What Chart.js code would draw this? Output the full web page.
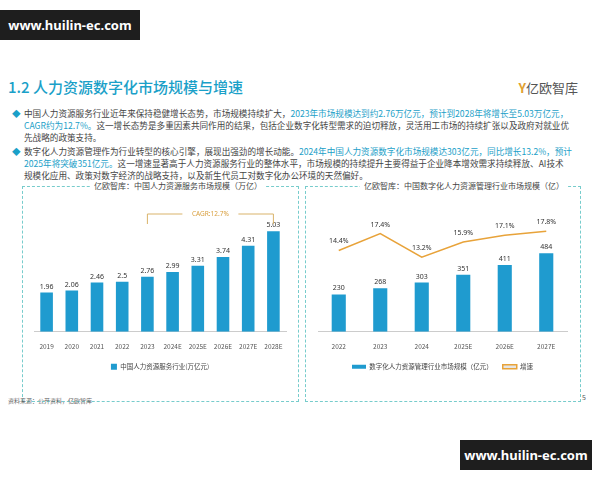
<!DOCTYPE html>
<html><head><meta charset="utf-8">
<script src="https://cdn.jsdelivr.net/npm/chart.js@4"></script>
<style>
body{margin:0;width:600px;height:480px;background:#fff;font-family:"Noto Sans CJK SC",sans-serif;position:relative;overflow:hidden}
.wm{position:absolute;background:#1e1e1e;color:#fff;font:bold 13px "Noto Sans",sans-serif;display:flex;align-items:center;justify-content:center;white-space:nowrap}
h1{position:absolute;left:8px;top:76px;margin:0;font-size:15px;font-weight:500;color:#1aa0c8}
.logo{position:absolute;right:22px;top:78px;font-size:13px;color:#555}
.logo b{color:#e0a030}
.p{position:absolute;left:12px;font-size:8.6px;line-height:12px;color:#444;width:560px}
.p span{color:#1aa0c8}
.p::before{content:"◆";color:#1aa0c8;position:absolute;left:0}
.p div{margin-left:12px}
.box{position:absolute;border:1px dashed #7cc;top:186px;height:214px}
.ct{position:absolute;top:180px;font-size:8px;color:#444;background:#fff;padding:0 4px}
canvas{position:absolute}
.foot{position:absolute;left:8px;top:396px;font-size:6px;color:#666}
</style></head><body>
<div class="wm" style="left:0;top:10px;width:140px;height:30px">www.huilin-ec.com</div>
<div class="wm" style="left:460px;top:440px;width:132px;height:30px">www.huilin-ec.com</div>
<h1>1.2 人力资源数字化市场规模与增速</h1>
<div class="logo"><b>Y</b>亿欧智库</div>
<div class="p" style="top:107px"><div>中国人力资源服务行业近年来保持稳健增长态势，市场规模持续扩大，<span>2023年市场规模达到约2.76万亿元，预计到2028年将增长至5.03万亿元，CAGR约为12.7%。</span>这一增长态势是多重因素共同作用的结果，包括企业数字化转型需求的迫切释放，灵活用工市场的持续扩张以及政府对就业优先战略的政策支持。</div></div>
<div class="p" style="top:145px"><div>数字化人力资源管理作为行业转型的核心引擎，展现出强劲的增长动能。<span>2024年中国人力资源数字化市场规模达303亿元，同比增长13.2%，预计2025年将突破351亿元。</span>这一增速显著高于人力资源服务行业的整体水平，市场规模的持续提升主要得益于企业降本增效需求持续释放、AI技术规模化应用、政策对数字经济的战略支持，以及新生代员工对数字化办公环境的天然偏好。</div></div>
<div class="box" style="left:22px;width:275px"></div>
<div class="box" style="left:305px;width:274px"></div>
<div class="ct" style="left:90px">亿欧智库：中国人力资源服务市场规模（万亿）</div>
<div class="ct" style="left:360px">亿欧智库：中国数字化人力资源管理行业市场规模（亿）</div>
<canvas id="c1" style="left:26px;top:196px" width="268" height="184"></canvas>
<canvas id="c2" style="left:310px;top:196px" width="265" height="184"></canvas>
<div class="foot">资料来源：公开资料，亿欧智库</div>
<div style="position:absolute;left:582px;top:392px;font-size:7px;color:#555">5</div>
<script>
const years1=['2019','2020','2021','2022','2023','2024E','2025E','2026E','2027E','2028E'];
const hr=[1.96,2.06,2.46,2.5,2.76,2.99,3.31,3.74,4.31,5.03];
const years2=['2022','2023','2024','2025E','2026E','2027E'];
const dig=[230,268,303,351,411,484];
const growth=[14.4,17.4,13.2,15.9,17.1,17.8];
const blue='#1f9bcf',orange='#e8a33a',F={family:'"Noto Sans CJK SC",sans-serif',size:6.5};
const labels={id:'lbl',afterDatasetsDraw(c){const x=c.ctx;x.save();x.font='7px "Noto Sans",sans-serif';x.fillStyle='#333';x.textAlign='center';
c.data.datasets.forEach((d,i)=>{c.getDatasetMeta(i).data.forEach((e,j)=>{const v=d.data[j];x.fillText(d.pct?v+'%':v,e.x,e.y-(d.pct?9:6));});});x.restore();}};
const bracket={id:'br',afterDraw(c){if(c.canvas.id!=='c1')return;const m=c.getDatasetMeta(0).data;const x=c.ctx;const a=m[4].x,b=m[9].x,y=18;
x.save();x.strokeStyle='#d9b36a';x.lineWidth=1;x.beginPath();x.moveTo(a,y+10);x.lineTo(a,y);x.lineTo(a+35,y);x.moveTo(b-35,y);x.lineTo(b,y);x.lineTo(b,y+10);x.stroke();
x.fillStyle='#d9a040';x.font='6.5px "Noto Sans",sans-serif';x.textAlign='center';x.textBaseline='middle';x.fillText('CAGR:12.7%',(a+b)/2,y);x.restore();}};
const common={responsive:false,animation:false,layout:{padding:{left:8,right:8,top:6}},
plugins:{legend:{position:'bottom',labels:{font:F,boxWidth:6,boxHeight:6,color:'#444'}},tooltip:{enabled:false}}};
new Chart(c1,{type:'bar',data:{labels:years1,datasets:[{label:'中国人力资源服务行业(万亿元)',data:hr,backgroundColor:blue,barPercentage:0.5,categoryPercentage:1}]},
options:{...common,scales:{x:{grid:{display:false},border:{color:'#ccc'},ticks:{font:F,color:'#555'}},y:{display:false,min:0,max:6.5}}},plugins:[labels,bracket]});
new Chart(c2,{data:{labels:years2,datasets:[
{type:'line',label:'增速',data:growth,pct:true,borderColor:orange,borderWidth:1.5,pointRadius:0,yAxisID:'y1',order:0},
{type:'bar',label:'数字化人力资源管理行业市场规模（亿元）',data:dig,backgroundColor:blue,barPercentage:0.34,categoryPercentage:1,order:1}]},
options:{...common,plugins:{...common.plugins,legend:{position:'bottom',reverse:true,labels:{font:F,boxWidth:14,boxHeight:4,color:'#444'}}},
scales:{x:{grid:{display:false},border:{color:'#ccc'},ticks:{font:F,color:'#555'}},y:{display:false,min:0,max:800},y1:{display:false,min:0,max:23}}},plugins:[labels]});
</script></body></html>
